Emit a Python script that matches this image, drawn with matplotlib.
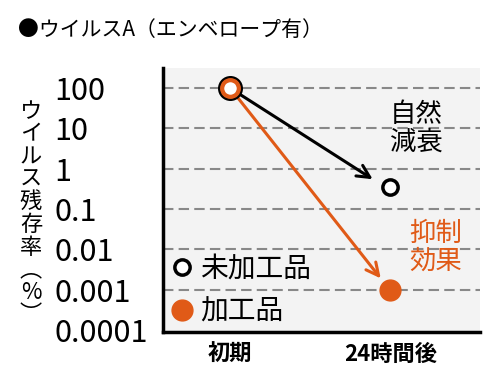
import matplotlib
matplotlib.use("Agg")
import matplotlib.pyplot as plt
from matplotlib.lines import Line2D

plt.rcParams["font.family"] = ["Noto Sans CJK JP", "DejaVu Sans"]

# data
categories = ["初期", "24時間後"]
untreated = [100, 0.35]
treated = [100, 0.001]
ytick_vals = [100, 10, 1, 0.1, 0.01, 0.001, 0.0001]
ytick_labels = ["100", "10", "1", "0.1", "0.01", "0.001", "0.0001"]

ORANGE = "#e05a17"

fig = plt.figure(figsize=(5, 3.91), dpi=100)
ax = fig.add_axes([0.326, 0.151, 0.634, 0.675])
ax.set_facecolor("#f3f3f3")
ax.set_yscale("log")
ax.set_ylim(10 ** -4.05, 10 ** 2.5)
ax.set_xlim(-0.42, 1.56)

for v in ytick_vals[:-1]:
    ax.axhline(v, color="#888888", lw=1.5, ls=(0, (5, 2.5)), zorder=1)

# arrows
ax.annotate("", xy=(0.89, 0.55), xytext=(0, untreated[0]),
            arrowprops=dict(arrowstyle="->,head_length=0.9,head_width=0.45",
                            color="black", lw=2.2, shrinkA=8, shrinkB=0), zorder=2)
ax.annotate("", xy=(0.94, 0.0019), xytext=(0, treated[0]),
            arrowprops=dict(arrowstyle="->,head_length=0.9,head_width=0.45",
                            color=ORANGE, lw=2.2, shrinkA=8, shrinkB=0), zorder=2)

# markers
x = list(range(len(categories)))
ax.plot(x[1], untreated[1], "o", ms=11, mfc="white", mec="black", mew=2.5, zorder=3)
ax.plot(x[1], treated[1], "o", ms=15, mfc=ORANGE, mec=ORANGE, zorder=3)
ax.plot(x[0], treated[0], "o", ms=16, mfc="white", mec="black", mew=2, zorder=3)
ax.plot(x[0], treated[0], "o", ms=12, mfc="white", mec=ORANGE, mew=3, zorder=4)

ax.text(1.16, 10 ** 1.0, "自然\n減衰", fontsize=19, ha="center", va="center",
        linespacing=1.05)
ax.text(1.28, 10 ** -1.95, "抑制\n効果", fontsize=19, ha="center", va="center",
        color=ORANGE, linespacing=1.05)

handles = [
    Line2D([], [], ls="none", marker="o", ms=11, mfc="white", mec="black", mew=2.5),
    Line2D([], [], ls="none", marker="o", ms=15, mfc=ORANGE, mec=ORANGE),
]
ax.legend(handles, ["未加工品", "加工品"], loc="lower left", frameon=False,
          fontsize=20, handletextpad=0.15, handlelength=1.0, borderaxespad=0.1,
          labelspacing=0.45, borderpad=0.1)

ax.set_xticks(x)
ax.set_xticklabels(categories, fontsize=16, fontweight="bold")
ax.set_yticks(ytick_vals)
ax.set_yticklabels(ytick_labels, fontsize=22)
ax.minorticks_off()
ax.tick_params(axis="y", length=0, pad=78)
ax.tick_params(axis="x", length=0, pad=8)
for lab in ax.get_yticklabels():
    lab.set_ha("left")

for s in ["top", "right"]:
    ax.spines[s].set_visible(False)
for s in ["left", "bottom"]:
    ax.spines[s].set_linewidth(2.5)

fig.text(0.036, 0.923, "●ウイルスA（エンベロープ有）", fontsize=15, va="center")
fig.text(0.062, 0.455, "ウ\nイ\nル\nス\n残\n存\n率\n︵\n%\n︶", fontsize=16,
         ha="center", va="center", linespacing=0.98)

fig.savefig("out.png", dpi=100)
